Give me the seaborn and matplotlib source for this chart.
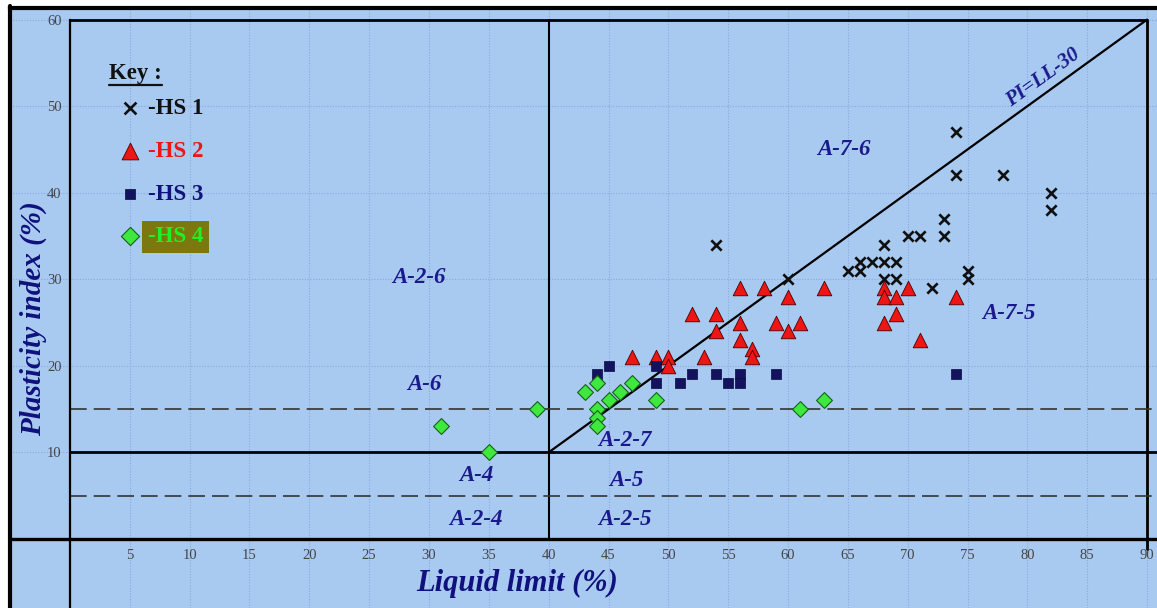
import matplotlib
matplotlib.use("Agg")
import matplotlib.pyplot as plt
import seaborn as sns
import pandas as pd
import numpy as np
from matplotlib.lines import Line2D

# ---------------- data ----------------
hs1_ll = [54, 60, 65, 66, 66, 67, 68, 68, 68, 69, 69, 70, 71, 72, 73, 73, 74, 74, 75, 75, 78, 82, 82]
hs1_pi = [34, 30, 31, 31, 32, 32, 32, 34, 30, 32, 30, 35, 35, 29, 35, 37, 42, 47, 31, 30, 42, 40, 38]

hs2_ll = [47, 49, 50, 50, 52, 53, 54, 54, 56, 56, 56, 57, 57, 58, 59, 60, 60, 61, 63, 68, 68, 68, 69, 69, 70, 71, 74]
hs2_pi = [21, 21, 21, 20, 26, 21, 26, 24, 29, 25, 23, 22, 21, 29, 25, 28, 24, 25, 29, 29, 28, 25, 28, 26, 29, 23, 28]

hs3_ll = [44, 45, 49, 49, 51, 52, 54, 55, 56, 56, 59, 74]
hs3_pi = [19, 20, 20, 18, 18, 19, 19, 18, 19, 18, 19, 19]

hs4_ll = [31, 35, 39, 43, 44, 44, 44, 44, 45, 46, 47, 49, 61, 63]
hs4_pi = [13, 10, 15, 17, 18, 15, 14, 13, 16, 17, 18, 16, 15, 16]

series_labels = ["-HS 1", "-HS 2", "-HS 3", "-HS 4"]

x_ticks = [5, 10, 15, 20, 25, 30, 35, 40, 45, 50, 55, 60, 65, 70, 75, 80, 85, 90]
y_ticks = [10, 20, 30, 40, 50, 60]

# classification boundaries
ll_limit = 40
ll_max = 90
pi_max = 60
pi_limit = 10
pi_dashed = [5, 15]
line_offset = 30  # PI = LL - 30

region_names = ["A-7-6", "A-7-5", "A-2-6", "A-6", "A-2-7", "A-4", "A-5", "A-2-4", "A-2-5"]
region_x = [64.7, 78.5, 29.2, 29.6, 46.4, 34.0, 46.5, 33.9, 46.4]
region_y = [45.0, 26.0, 30.2, 17.8, 11.4, 7.3, 6.8, 2.3, 2.3]

# ---------------- style ----------------
sns.set_theme(style="white")
plt.rcParams["font.family"] = ["Liberation Serif", "DejaVu Serif"]

W, H = 1157, 608
fig = plt.figure(figsize=(W / 100, H / 100), dpi=100, facecolor="white")
ax = fig.add_axes([10 / W, 0, 1 - 10 / W, 1 - 7.5 / H])
ax.set_facecolor("#a8c9f0")

ax.set_xlim(-5.01, 90.83)
ax.set_ylim(-7.98, 61.4)

navy = "#10107e"
txt_navy = "#1a1a8c"

# grid
ax.set_xticks(x_ticks)
ax.set_yticks(y_ticks)
ax.grid(True, color="#8aaade", linestyle=(0, (1, 1.5)), linewidth=0.8)
ax.set_axisbelow(True)

# spines
ax.spines["left"].set_position(("data", 0))
ax.spines["bottom"].set_position(("data", 0))
ax.spines["left"].set_bounds(-8, pi_max)
ax.spines["left"].set_linewidth(1.6)
ax.spines["bottom"].set_linewidth(2.4)
ax.spines["right"].set_visible(False)
ax.spines["top"].set_linewidth(3.0)
for s in ["left", "bottom", "top"]:
    ax.spines[s].set_color("black")

ax.tick_params(axis="x", direction="in", length=7, width=1.0, pad=7,
               labelsize=10.5, labelcolor="#454545", color="#222")
ax.tick_params(axis="y", direction="inout", length=10, width=1.0, pad=1,
               labelsize=10.5, labelcolor="#454545", color="#222")

# boundary lines
ax.plot([0, ll_max], [pi_max, pi_max], color="black", lw=2.0, zorder=2)
ax.plot([ll_limit, ll_limit], [0, pi_max], color="black", lw=1.5, zorder=2)
ax.plot([ll_max, ll_max], [-1.2, pi_max], color="black", lw=2.0, zorder=2)
ax.plot([0, 91], [pi_limit, pi_limit], color="black", lw=2.0, zorder=2)
for yv in pi_dashed:
    ax.plot([0, 91], [yv, yv], color="#333333", lw=1.2, dashes=(10, 4.2), zorder=2)
ll_line = np.array([ll_limit, ll_max])
ax.plot(ll_line, ll_line - line_offset, color="black", lw=1.6, zorder=2)

# scatter series
df1 = pd.DataFrame({"LL": hs1_ll, "PI": hs1_pi})
df2 = pd.DataFrame({"LL": hs2_ll, "PI": hs2_pi})
df3 = pd.DataFrame({"LL": hs3_ll, "PI": hs3_pi})
df4 = pd.DataFrame({"LL": hs4_ll, "PI": hs4_pi})

sns.scatterplot(data=df1, x="LL", y="PI", ax=ax, marker="x", color="#101010",
                s=55, linewidth=1.9, label=series_labels[0], zorder=4)
sns.scatterplot(data=df2, x="LL", y="PI", ax=ax, marker="^", color="#ee1515",
                edgecolor="#4a0000", linewidth=0.6, s=110, label=series_labels[1], zorder=4)
sns.scatterplot(data=df3, x="LL", y="PI", ax=ax, marker="s", color="#12125e",
                edgecolor="#0a0a40", linewidth=0.5, s=45, label=series_labels[2], zorder=4)
sns.scatterplot(data=df4, x="LL", y="PI", ax=ax, marker="D", color="#3fe83f",
                edgecolor="#17601a", linewidth=0.8, s=65, label=series_labels[3], zorder=4)

ax.set_xlabel("")
ax.set_ylabel("")

# region labels
for name, xx, yy in zip(region_names, region_x, region_y):
    ax.text(xx, yy, name, ha="center", va="center", fontsize=16.5,
            fontweight="bold", fontstyle="italic", color=txt_navy, zorder=5)

ax.text(81.3, 53.3, "PI=LL-30", ha="center", va="center", fontsize=15,
        fontweight="bold", fontstyle="italic", color=txt_navy,
        rotation=45, transform_rotates_text=True, rotation_mode="anchor", zorder=5)

# axis titles
ax.text(37.4, -5.2, "Liquid limit (%)", ha="center", va="center", fontsize=22,
        fontweight="bold", fontstyle="italic", color=navy)
ax.text(-3.1, 25.5, "Plasticity index (%)", ha="center", va="center", fontsize=21,
        fontweight="bold", fontstyle="italic", color=navy, rotation=90)

# legend
leg = ax.legend(loc="upper left", bbox_to_anchor=(118 / W, 1 - 98 / H),
                bbox_transform=fig.transFigure, frameon=False, borderpad=0,
                borderaxespad=0, handlelength=1.05, handletextpad=0.25,
                labelspacing=0.95, markerscale=1.15,
                prop=dict(family="Liberation Serif", weight="bold", size=16.5))
leg_colors = ["#111111", "#ee1515", "#12127e", "#22f022"]
for t, c in zip(leg.get_texts(), leg_colors):
    t.set_color(c)
leg.get_texts()[3].set_bbox(dict(facecolor="#7c7810", edgecolor="none", pad=4))

key = fig.text(109 / W, 1 - 79 / H, "Key :", ha="left", va="baseline",
               fontsize=16.5, fontweight="bold", color="#111111")
fig.canvas.draw()
bb = key.get_window_extent()
x0, x1 = bb.x0 / W, bb.x1 / W
fig.add_artist(Line2D([x0, x1], [1 - 85 / H, 1 - 85 / H], transform=fig.transFigure,
                      color="#111111", lw=1.6))

# outer left frame
fig.add_artist(Line2D([10 / W, 10 / W], [0, 1 - 6 / H], transform=fig.transFigure,
                      color="black", lw=3.0))

fig.savefig("out.png", dpi=100, facecolor="white")
